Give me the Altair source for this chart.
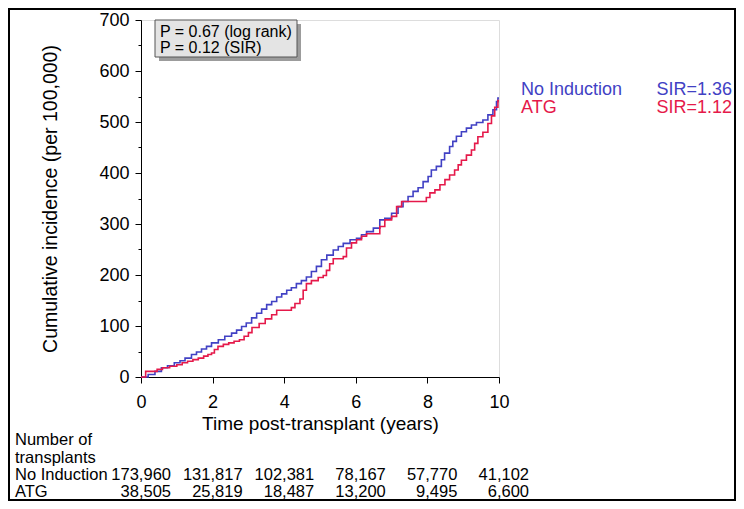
import altair as alt
import pandas as pd

FONT = "Liberation Sans"
BLUE = "#4141c4"
RED = "#e5194a"

# ---- cumulative incidence curves ----
no_t = [0, 0.10, 0.20, 0.39, 0.57, 0.74, 0.93, 1.09, 1.23, 1.41,
        1.55, 1.69, 1.83, 1.97, 2.16, 2.34, 2.53, 2.67, 2.81, 2.94,
        3.09, 3.23, 3.37, 3.51, 3.65, 3.79, 3.93, 4.07, 4.20, 4.34,
        4.48, 4.62, 4.76, 4.90, 5.04, 5.19, 5.37, 5.51, 5.65, 5.84,
        6.02, 6.16, 6.30, 6.49, 6.67, 6.81, 7.00, 7.18, 7.32, 7.46,
        7.60, 7.74, 7.88, 8.02, 8.11, 8.25, 8.39, 8.48, 8.62, 8.71,
        8.81, 8.95, 9.09, 9.23, 9.37, 9.55, 9.69, 9.83, 9.93, 9.97, 10.0]
no_v = [0, 0, 5, 11, 18, 22, 28, 32, 37, 44,
        49, 55, 60, 67, 73, 80, 86, 92, 99, 106,
        116, 125, 133, 142, 148, 157, 163, 170, 175, 183,
        189, 196, 207, 217, 230, 239, 249, 256, 262, 269,
        272, 279, 285, 292, 308, 311, 321, 334, 344, 354,
        364, 371, 383, 393, 406, 413, 426, 439, 452, 462,
        472, 481, 488, 494, 499, 504, 514, 524, 540, 547, 547]

atg_t = [0, 0.08, 0.13, 0.45, 0.60, 0.80, 1.00, 1.15, 1.30, 1.45,
         1.60, 1.75, 1.87, 1.97, 2.05, 2.15, 2.30, 2.45, 2.60, 2.75,
         2.88, 3.00, 3.10, 3.30, 3.47, 3.65, 3.79, 4.20, 4.30, 4.44,
         4.53, 4.62, 4.76, 4.95, 5.09, 5.18, 5.27, 5.37, 5.65, 5.74,
         5.88, 6.02, 6.16, 6.30, 6.67, 6.81, 7.00, 7.14, 7.28, 7.97,
         8.07, 8.21, 8.35, 8.49, 8.62, 8.76, 8.86, 8.95, 9.09, 9.23,
         9.32, 9.41, 9.55, 9.69, 9.79, 9.88, 9.97, 10.0]
atg_v = [0, 0, 11, 15, 18, 21, 24, 28, 31, 34,
         37, 41, 44, 47, 54, 60, 64, 67, 70, 73,
         80, 87, 97, 105, 114, 122, 131, 136, 144, 153,
         170, 183, 189, 195, 199, 209, 222, 232, 236, 253,
         263, 269, 276, 281, 295, 308, 315, 334, 344, 352,
         361, 367, 377, 387, 396, 406, 416, 425, 435, 445,
         458, 471, 480, 497, 512, 529, 542, 542]

# ---- number at risk table ----
table_years = [0, 2, 4, 6, 8, 10]
no_counts = [173960, 131817, 102381, 78167, 57770, 41102]
atg_counts = [38505, 25819, 18487, 13200, 9495, 6600]

# ---- annotations ----
p_lines = ["P = 0.67 (log rank)", "P = 0.12 (SIR)"]
groups = ["No Induction", "ATG"]
sir_labels = ["SIR=1.36", "SIR=1.12"]

XT = "Time post-transplant (years)"

df_no = pd.DataFrame({"t": no_t, "v": no_v})
df_atg = pd.DataFrame({"t": atg_t, "v": atg_v})
df_tab = pd.DataFrame({
    "t": table_years,
    "no": [f"{n:,}" for n in no_counts],
    "atg": [f"{n:,}" for n in atg_counts],
})
one = pd.DataFrame({"a": [0]})

x_axis = alt.Axis(
    values=list(range(11)),
    labelExpr="datum.value % 2 === 0 ? datum.label : ''",
    labelOverlap=False, labelFlush=False,
    grid=False, tickSize=6, labelPadding=10, titlePadding=3,
    labelFontSize=18, titleFontSize=19, titleFontWeight="normal",
    labelFont=FONT, titleFont=FONT,
    domainColor="black", tickColor="black", labelColor="black", titleColor="black",
)
y_axis = alt.Axis(
    values=list(range(0, 701, 50)),
    labelExpr="datum.value % 100 === 0 ? datum.label : ''",
    labelOverlap=False,
    grid=False,
    tickSize={"condition": {"test": "datum.value % 100 === 0", "value": 6}, "value": 3},
    labelPadding=6, titlePadding=38,
    labelFontSize=18, titleFontSize=19.5, titleFontWeight="normal",
    labelFont=FONT, titleFont=FONT,
    domainColor="black", tickColor="black", labelColor="black", titleColor="black",
)

xs = alt.Scale(domain=[0, 10], nice=False)
ys = alt.Scale(domain=[0, 700], nice=False)

def curve(df, color):
    return alt.Chart(df).mark_line(interpolate="step-after", strokeWidth=1.6, color=color).encode(
        x=alt.X("t:Q", scale=xs, axis=x_axis, title=XT),
        y=alt.Y("v:Q", scale=ys, axis=y_axis, title="Cumulative incidence (per 100,000)"),
    )

blue_line = curve(df_no, BLUE)
red_line = curve(df_atg, RED)

# P-value box
shadow = alt.Chart(one).mark_rect(color="#9c9c9c").encode(
    x=alt.value(18), x2=alt.value(160), y=alt.value(4), y2=alt.value(41))
box = alt.Chart(one).mark_rect(fill="#e4e4e4", stroke="#555555", strokeWidth=1).encode(
    x=alt.value(14), x2=alt.value(156), y=alt.value(0), y2=alt.value(37))
p1 = alt.Chart(one).mark_text(text=p_lines[0], align="left", baseline="alphabetic",
                              font=FONT, fontSize=16, color="black").encode(
    x=alt.value(19), y=alt.value(16.5))
p2 = alt.Chart(one).mark_text(text=p_lines[1], align="left", baseline="alphabetic",
                              font=FONT, fontSize=16, color="black").encode(
    x=alt.value(19), y=alt.value(33))

# legend texts
leg = []
for i, (g, s, c) in enumerate(zip(groups, sir_labels, [BLUE, RED])):
    yb = 74.5 + 18.5 * i
    leg.append(alt.Chart(one).mark_text(text=g, align="left", baseline="alphabetic",
                                        font=FONT, fontSize=18, color=c).encode(
        x=alt.value(380), y=alt.value(yb)))
    leg.append(alt.Chart(one).mark_text(text=s, align="right", baseline="alphabetic",
                                        font=FONT, fontSize=18, color=c).encode(
        x=alt.value(591), y=alt.value(yb)))

# number-at-risk table
row_labels = ["Number of", "transplants", "No Induction", "ATG"]
row_y = [425, 443, 460, 477]
tab_labels = [
    alt.Chart(one).mark_text(text=lab, align="left", baseline="alphabetic",
                             font=FONT, fontSize=16.5, color="black").encode(
        x=alt.value(-126), y=alt.value(yy))
    for lab, yy in zip(row_labels, row_y)
]
tab_no = alt.Chart(df_tab).mark_text(align="right", baseline="alphabetic", dx=30,
                                     font=FONT, fontSize=16.5, color="black").encode(
    x=alt.X("t:Q", scale=xs, title=XT), y=alt.value(460), text="no:N")
tab_atg = alt.Chart(df_tab).mark_text(align="right", baseline="alphabetic", dx=30,
                                      font=FONT, fontSize=16.5, color="black").encode(
    x=alt.X("t:Q", scale=xs, title=XT), y=alt.value(477), text="atg:N")

# outer frame
frame = alt.Chart(one).mark_rect(filled=False, stroke="black", strokeWidth=2).encode(
    x=alt.value(-132), x2=alt.value(594), y=alt.value(-11), y2=alt.value(480))

chart = alt.layer(
    blue_line, red_line, shadow, box, p1, p2, *leg, *tab_labels, tab_no, tab_atg, frame
).properties(
    width=358, height=357,
    autosize=alt.AutoSizeParams(type="none"),
    padding={"left": 133, "top": 12, "right": 237, "bottom": 124},
).configure_view(strokeWidth=0).configure(background="white")

chart.save("out.html", embed_options={"renderer": "svg", "actions": False})
